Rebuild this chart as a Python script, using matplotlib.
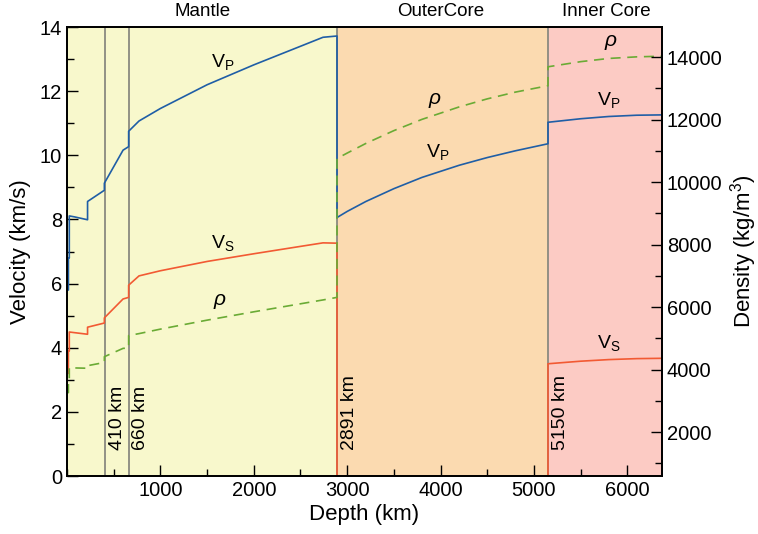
import matplotlib.pyplot as plt
from matplotlib.ticker import MultipleLocator

plt.rcParams['font.family'] = ['Liberation Sans', 'DejaVu Sans']
plt.rcParams['mathtext.fontset'] = 'custom'
plt.rcParams['mathtext.rm'] = 'Liberation Sans'
plt.rcParams['mathtext.it'] = 'Liberation Sans:italic'

# PREM-like profile (depth km, vp km/s, vs km/s, rho g/cm3)
depth = [0, 15, 15, 24.4, 24.4, 80, 220, 220, 400, 400, 600, 660, 660, 771,
         1000, 1500, 2000, 2500, 2741, 2891, 2891, 3000, 3200, 3500, 3800, 4200,
         4500, 4800, 5150, 5150, 5500, 5800, 6100, 6371]
vp = [5.8, 5.8, 6.8, 6.8, 8.11, 8.08, 7.99, 8.56, 8.91, 9.13, 10.16, 10.27, 10.75, 11.07,
      11.46, 12.20, 12.82, 13.40, 13.68, 13.72, 8.06, 8.25, 8.56, 8.96, 9.31, 9.69,
      9.93, 10.14, 10.36, 11.03, 11.14, 11.21, 11.25, 11.26]
vs = [3.2, 3.2, 3.9, 3.9, 4.49, 4.47, 4.42, 4.64, 4.77, 4.93, 5.52, 5.57, 5.95, 6.24,
      6.40, 6.69, 6.93, 7.16, 7.27, 7.26, 0, 0, 0, 0, 0, 0,
      0, 0, 0, 3.50, 3.58, 3.63, 3.66, 3.67]
rho = [2.6, 2.6, 2.9, 2.9, 3.38, 3.37, 3.36, 3.44, 3.54, 3.72, 3.98, 3.99, 4.38, 4.44,
       4.58, 4.86, 5.12, 5.37, 5.49, 5.57, 9.90, 10.07, 10.37, 10.77, 11.12, 11.51,
       11.76, 11.97, 12.17, 12.76, 12.92, 13.02, 13.07, 13.09]

layers = [(0, 2891, '#f8f8cc'), (2891, 5150, '#fbdab0'), (5150, 6371, '#fccbc4')]
layer_names = ['Mantle', 'OuterCore', 'Inner Core']
layer_name_x = [1450, 4000, 5770]
boundaries = [410, 660, 2891, 5150]
boundary_labels = ['410 km', '660 km', '2891 km', '5150 km']

fig = plt.figure(figsize=(7.58, 5.34), dpi=100)
ax = fig.add_axes([0.0884, 0.1086, 0.785, 0.8408])

for (x0, x1, c), name, nx in zip(layers, layer_names, layer_name_x):
    ax.axvspan(x0, x1, color=c, lw=0, zorder=0)
    ax.text(nx, 14.22, name, ha='center', va='bottom', fontsize=13.5)

for b, lab in zip(boundaries, boundary_labels):
    ax.axvline(b, color='#8a8a80', lw=1.3, zorder=1)
    ax.text(b + 40, 0.8, lab, rotation=90, ha='left', va='bottom', fontsize=14)

ax.plot(depth, vp, color='#1f5ea6', lw=1.2, zorder=3)
ax.plot(depth, vs, color='#f25a33', lw=1.2, zorder=3)
ax.plot(depth, rho, color='#6aab35', lw=1.2, ls=(0, (6, 4)), zorder=3)

# curve labels
for x, y in [(1664, 12.9), (3966, 10.1), (5797, 11.72)]:
    ax.text(x, y, r'V$_\mathregular{P}$', ha='center', va='center', fontsize=14)
for x, y in [(1664, 7.26), (5797, 4.15)]:
    ax.text(x, y, r'V$_\mathregular{S}$', ha='center', va='center', fontsize=14)
for x, y in [(1642, 5.43), (3944, 11.72), (5819, 13.53)]:
    ax.text(x, y, r'$\rho$', ha='center', va='center', fontsize=15)

ax.set_xlim(0, 6371)
ax.set_ylim(0, 14)
ax.xaxis.set_major_locator(MultipleLocator(1000))
ax.xaxis.set_minor_locator(MultipleLocator(500))
ax.yaxis.set_major_locator(MultipleLocator(2))
ax.yaxis.set_minor_locator(MultipleLocator(1))
ax.set_xticks([1000, 2000, 3000, 4000, 5000, 6000])
ax.tick_params(which='both', direction='in', labelsize=14.5)
ax.tick_params(which='major', length=8, width=1)
ax.tick_params(which='minor', length=5, width=1)
ax.set_xlabel('Depth (km)', fontsize=16, labelpad=3)
ax.set_ylabel('Velocity (km/s)', fontsize=16, labelpad=6)
for s in ax.spines.values():
    s.set_linewidth(1.3)
    s.set_zorder(5)

ax2 = ax.twinx()
ax2.set_ylim(592, 14960)
ax2.yaxis.set_major_locator(MultipleLocator(2000))
ax2.yaxis.set_minor_locator(MultipleLocator(1000))
ax2.tick_params(which='both', direction='in', labelsize=14.5)
ax2.tick_params(which='major', length=8, width=1)
ax2.tick_params(which='minor', length=5, width=1)
ax2.set_ylabel('Density (kg/m$^3$)', fontsize=16, labelpad=4)
for s in ax2.spines.values():
    s.set_linewidth(1.3)

fig.savefig('out.png', dpi=100)
